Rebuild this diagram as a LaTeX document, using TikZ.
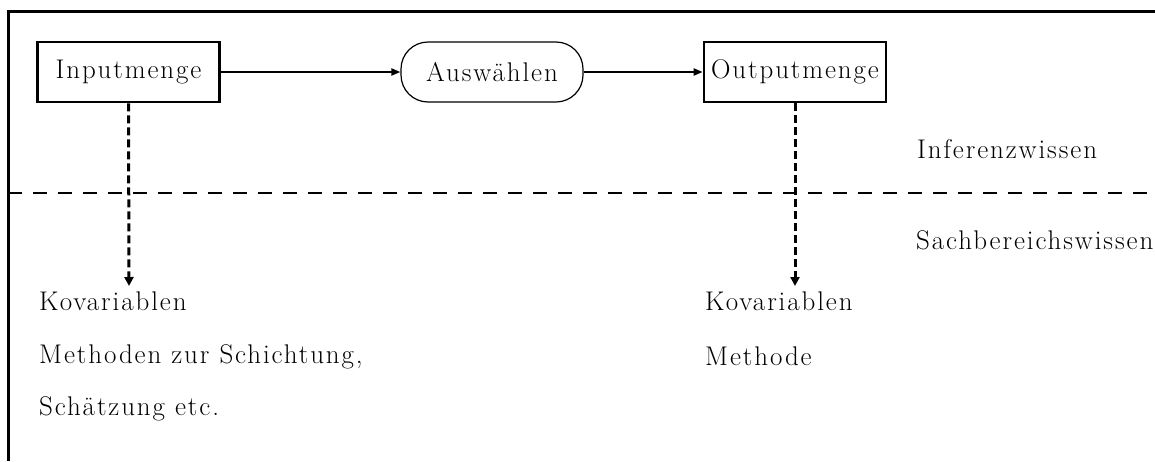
\documentclass[tikz,border=0pt]{standalone}
\usepackage{fontspec}
\setmainfont{Latin Modern Roman}[LetterSpace=7]
\usetikzlibrary{arrows.meta}
\tikzset{
  box/.style={draw, line width=2.6pt, minimum width=182pt, minimum height=60pt, inner sep=0pt},
  roundbox/.style={draw, line width=1.2pt, rounded corners=27pt, minimum width=182pt, minimum height=60pt, inner sep=0pt},
  flow/.style={line width=2pt, -{Triangle[length=9pt,width=7pt]}},
  refer/.style={line width=3pt, dash pattern=on 8pt off 4pt, -{Triangle[length=9pt,width=9pt]}},
  divider/.style={line width=2.6pt, dash pattern=on 14pt off 11pt},
  frame/.style={line width=3pt},
  label/.style={anchor=base west, inner sep=0pt}
}
\begin{document}
\begin{tikzpicture}[x=1pt, y=-1pt, font=\fontsize{27}{32}\selectfont]
\useasboundingbox (0,0) rectangle (1155,461);

% open frame: top and left edges
\draw[frame] (1155,11) -- (8,11) -- (8,461);

% separator between the two kinds of knowledge
\draw[divider] (8,193) -- (1155,193);

% main flow
\node[box] (in) at (128.5,72) {Inputmenge};
\node[roundbox] (sel) at (492,72) {Auswählen};
\node[box] (out) at (795,72) {Outputmenge};
\draw[flow] (in) -- (sel);
\draw[flow] (sel) -- (out);

% ends of the dashed references
\coordinate (kl) at (129,286);
\coordinate (kr) at (795,286);
\draw[refer] (in.south) -- (kl);
\draw[refer] (out.south) -- (kr);

% layer labels
\node[label] (inf) at (917,158) {Inferenzwissen};
\node[label] (sach) at (916,249) {Sachbereichswissen};

% domain knowledge below the input set
\node[label] (kov1) at (39,310) {Kovariablen};
\node[label] (meth1) at (39,363) {Methoden zur Schichtung,};
\node[label] (schaetz) at (39,415) {Schätzung etc.};

% domain knowledge below the output set
\node[label] (kov2) at (705,310) {Kovariablen};
\node[label] (meth2) at (705,365) {Methode};
\end{tikzpicture}
\end{document}
